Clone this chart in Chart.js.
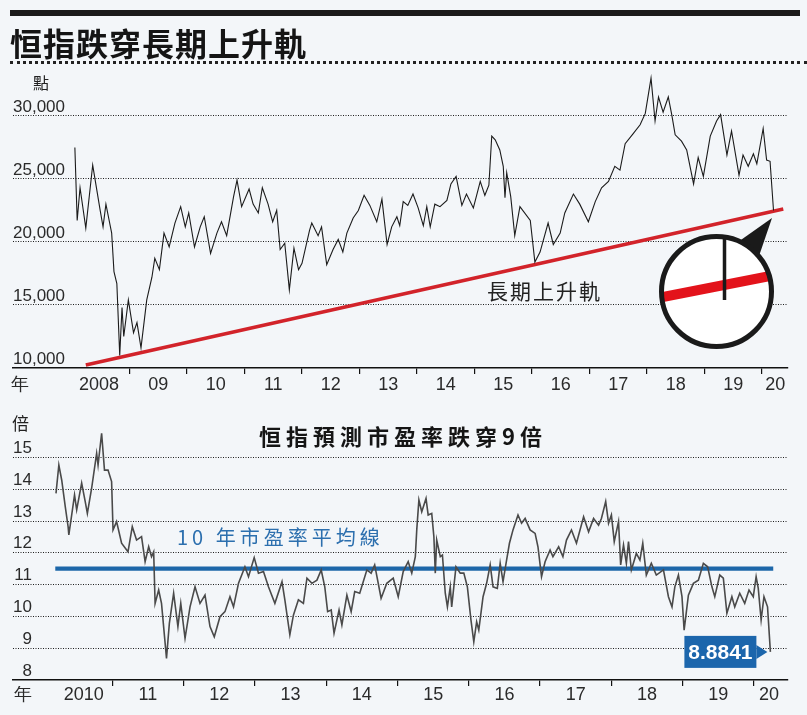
<!DOCTYPE html>
<html lang="zh-Hant">
<head>
<meta charset="utf-8">
<title>恒指跌穿長期上升軌</title>
<script src="https://cdn.jsdelivr.net/npm/chart.js@4.4.1/dist/chart.umd.min.js"></script>
<style>
  body { margin: 0; background: #f3f6f9; }
  #page { position: relative; width: 807px; height: 715px; overflow: hidden; background: #f3f6f9;
          font-family: 'Noto Sans CJK TC', 'Liberation Sans', sans-serif; color: #222; }
  canvas { position: absolute; left: 0; }
  #hsiChart { top: 0; }
  #peChart { top: 400px; }
  .txt { position: absolute; white-space: nowrap; }
  .bar { position: absolute; left: 10px; width: 790px; top: 10px; height: 6px; background: #1b1b1b; }
  .dots { position: absolute; left: 10px; width: 797px; top: 61px; border-top: 3px dotted #222; }
  .title { left: 10px; top: 22px; font-size: 32px; line-height: 40px; font-weight: 700; letter-spacing: 1px; color: #151515; }
  .unit1 { left: 33px; top: 72px; font-size: 16px; line-height: 20px; }
  .unit2 { left: 12px; top: 412px; font-size: 17px; line-height: 22px; }
  .trendLabel { left: 487px; top: 277px; font-size: 21px; line-height: 26px; letter-spacing: 2px; color: #222; }
  .subTitle { left: 259px; top: 420px; font-size: 22px; line-height: 30px; font-weight: 700; letter-spacing: 5px; color: #151515; }
  .avgLabel { left: 177px; top: 524px; font-size: 20px; line-height: 26px; letter-spacing: 4px; color: #2c6fae; }
</style>
</head>
<body>
<div id="page">
  <canvas id="hsiChart" width="807" height="400"></canvas>
  <canvas id="peChart" width="807" height="315"></canvas>
  <div class="bar"></div>
  <div class="txt title">恒指跌穿長期上升軌</div>
  <div class="dots"></div>
  <div class="txt unit1">點</div>
  <div class="txt trendLabel">長期上升軌</div>
  <div class="txt unit2">倍</div>
  <div class="txt subTitle">恒指預測市盈率跌穿9倍</div>
  <div class="txt avgLabel">10 年市盈率平均線</div>
</div>
<script>
// 恒指 (年份以小數表示)
const hsiYears = [2008.05,2008.09,2008.14,2008.24,2008.36,2008.49,2008.54,2008.59,2008.69,2008.73,
  2008.78,2008.83,2008.87,2008.90,2008.98,2009.07,2009.13,2009.20,2009.30,2009.39,
  2009.44,2009.52,2009.60,2009.69,2009.79,2009.89,2009.97,2010.03,2010.13,2010.23,
  2010.30,2010.41,2010.52,2010.60,2010.69,2010.81,2010.87,2010.95,2011.08,2011.15,
  2011.24,2011.31,2011.41,2011.49,2011.56,2011.62,2011.70,2011.78,2011.86,2011.94,
  2012.00,2012.13,2012.17,2012.28,2012.34,2012.43,2012.54,2012.63,2012.71,2012.78,
  2012.89,2012.98,2013.08,2013.18,2013.30,2013.39,2013.48,2013.56,2013.65,2013.70,
  2013.76,2013.84,2013.93,2014.02,2014.11,2014.17,2014.23,2014.31,2014.40,2014.52,
  2014.59,2014.68,2014.78,2014.86,2014.98,2015.10,2015.18,2015.25,2015.30,2015.36,
  2015.44,2015.50,2015.53,2015.56,2015.63,2015.70,2015.79,2015.97,2016.05,2016.14,
  2016.28,2016.37,2016.49,2016.57,2016.72,2016.83,2016.98,2017.10,2017.21,2017.33,
  2017.44,2017.53,2017.62,2017.76,2017.88,2017.97,2018.07,2018.14,2018.20,2018.28,
  2018.37,2018.43,2018.49,2018.60,2018.69,2018.81,2018.89,2018.98,2019.10,2019.21,
  2019.28,2019.39,2019.47,2019.60,2019.67,2019.76,2019.85,2019.91,2020.02,2020.08,
  2020.14,2020.20];
const hsiValues = [27500,21700,24300,21100,26100,22500,21200,23000,20700,17650,
  16700,11000,14800,12500,15400,12800,13600,11600,15400,17200,
  18700,17800,20700,19600,21500,22800,21200,22300,19600,21200,
  22000,19100,20700,21600,20500,23600,24900,22800,24200,23000,
  22300,24300,23000,21600,22500,19400,19900,16200,19500,17800,
  18300,20900,21500,20500,21200,18200,19400,20200,19200,20700,
  21900,22500,23700,22900,21600,23400,19800,21200,22000,21300,
  23200,22900,23800,22700,21300,22800,21200,23000,22800,23300,
  24600,25200,22900,23800,22700,24800,23700,24500,28400,28100,
  27300,26000,23500,25500,23600,20500,22800,21700,18400,19200,
  21500,19800,20700,22300,23800,23000,21600,23200,24300,24800,
  26000,25700,27800,28600,29300,30200,33000,29600,31500,30300,
  31500,30100,28500,28000,27300,24600,26700,25200,28400,29600,
  30100,26900,28800,25300,26900,26000,27000,26200,29000,26500,
  26400,22500];

// 長期上升軌
const trendYears = [2008.24, 2020.37];
const trendValues = [10240, 22620];

// 上圖刻度
const hsiYTicks = [10000, 15000, 20000, 25000, 30000];
const hsiYearTicks = [2009,2010,2011,2012,2013,2014,2015,2016,2017,2018,2019,2020];
const hsiLabelPos = [2007.10,2008.47,2009.5,2010.5,2011.5,2012.5,2013.5,2014.5,2015.5,2016.5,2017.5,2018.5,2019.5,2020.23];
const hsiLabels = ['年','2008','09','10','11','12','13','14','15','16','17','18','19','20'];

// 預測市盈率
const peYears = [2010.21,2010.25,2010.29,2010.34,2010.38,2010.39,2010.42,2010.47,2010.50,2010.57,
  2010.62,2010.65,2010.71,2010.78,2010.80,2010.85,2010.89,2010.94,2010.99,2011.01,
  2011.06,2011.13,2011.22,2011.28,2011.34,2011.41,2011.46,2011.51,2011.55,2011.58,
  2011.60,2011.65,2011.69,2011.76,2011.80,2011.86,2011.92,2011.96,2012.02,2012.09,
  2012.16,2012.23,2012.30,2012.37,2012.43,2012.51,2012.58,2012.65,2012.70,2012.77,
  2012.86,2012.91,2012.99,2013.05,2013.12,2013.19,2013.28,2013.38,2013.42,2013.49,
  2013.54,2013.61,2013.68,2013.73,2013.80,2013.87,2013.93,2013.98,2014.02,2014.07,
  2014.11,2014.18,2014.22,2014.29,2014.35,2014.40,2014.47,2014.57,2014.63,2014.68,
  2014.77,2014.85,2014.94,2015.01,2015.08,2015.15,2015.20,2015.25,2015.27,2015.30,
  2015.34,2015.40,2015.43,2015.48,2015.51,2015.53,2015.55,2015.60,2015.63,2015.67,
  2015.70,2015.74,2015.76,2015.82,2015.88,2015.93,2015.98,2016.03,2016.07,2016.11,
  2016.14,2016.20,2016.25,2016.30,2016.34,2016.40,2016.44,2016.48,2016.53,2016.57,
  2016.62,2016.69,2016.74,2016.79,2016.86,2016.93,2016.97,2017.02,2017.07,2017.14,
  2017.18,2017.26,2017.32,2017.37,2017.44,2017.51,2017.61,2017.68,2017.75,2017.82,
  2017.86,2017.92,2017.96,2018.00,2018.04,2018.10,2018.13,2018.17,2018.21,2018.24,
  2018.28,2018.35,2018.40,2018.44,2018.49,2018.56,2018.63,2018.73,2018.80,2018.85,
  2018.89,2018.94,2018.99,2019.02,2019.08,2019.15,2019.22,2019.29,2019.35,2019.41,
  2019.45,2019.52,2019.57,2019.62,2019.69,2019.73,2019.80,2019.87,2019.93,2019.99,
  2020.03,2020.06,2020.10,2020.14,2020.19,2020.23];
const peValues = [13.87,14.76,14.29,13.45,12.82,12.56,13.03,13.82,13.35,14.19,
  13.61,13.24,14.03,15.13,14.76,15.76,14.60,14.60,14.24,12.72,
  12.98,12.30,12.03,12.82,12.40,12.51,11.72,12.19,11.88,12.03,
  10.41,10.83,10.41,8.68,9.78,10.73,9.68,10.41,9.31,10.30,
  10.93,10.41,10.67,9.68,9.36,9.99,10.15,10.62,10.30,11.04,
  11.56,11.25,11.85,11.36,11.41,10.93,10.41,11.09,10.52,9.42,
  10.04,10.52,10.41,11.20,11.04,11.14,11.46,10.93,10.15,10.20,
  9.47,10.20,9.73,10.67,10.15,10.78,10.73,11.46,11.36,11.62,
  10.57,11.04,11.20,10.62,11.41,11.72,11.36,11.88,12.72,13.66,
  13.29,13.71,13.19,13.24,12.51,11.36,12.40,11.88,11.93,10.73,
  10.30,10.93,10.30,11.56,11.36,11.36,10.93,9.89,9.20,9.83,
  9.57,10.62,11.04,11.62,10.93,10.88,11.67,11.09,11.77,12.30,
  12.72,13.19,12.93,13.08,12.72,12.61,12.19,11.25,11.72,12.09,
  11.88,12.19,11.88,12.40,12.72,12.30,13.13,12.66,13.08,12.87,
  13.08,13.61,12.93,13.19,12.35,12.98,11.62,12.25,11.67,12.35,
  11.46,11.98,11.77,12.30,11.30,11.67,11.30,11.46,10.62,10.30,
  10.93,11.30,10.62,9.57,10.67,11.04,11.14,11.67,11.56,10.93,
  10.62,11.30,11.20,10.10,10.62,10.30,10.73,10.41,10.83,10.62,
  11.25,10.88,9.89,10.62,10.30,8.8841];
const lastPE = '8.8841';

// 10年市盈率平均線
const avgYears = [2010.20, 2020.27];
const avgPE = 11.5;

// 下圖刻度
const peYTicks = [8, 9, 10, 11, 12, 13, 14, 15];
const peYearTicks = [2011,2012,2013,2014,2015,2016,2017,2018,2019,2020];
const peLabelPos = [2009.75,2010.60,2011.5,2012.5,2013.5,2014.5,2015.5,2016.5,2017.5,2018.5,2019.5,2020.21];
const peLabels = ['年','2010','11','12','13','14','15','16','17','18','19','20'];

const tickFont = { family: "'Liberation Sans', Arial, sans-serif", size: 17 };
const catFont = { family: "'Liberation Sans', Arial, sans-serif", size: 18 };

function toPoints(xs, ys) {
    return xs.map((x, i) => ({ x: x, y: Array.isArray(ys) ? ys[i] : ys }));
}

function xAxes(min, max, yearTicks, labelPos, labels, labelHeight, labelPad) {
    return {
        x: {
            type: 'linear', position: 'bottom', min: min, max: max,
            afterBuildTicks: s => { s.ticks = yearTicks.map(v => ({ value: v })); },
            afterFit: s => { s.height = 6; },
            grid: { drawOnChartArea: false, drawTicks: true, tickLength: 6, color: '#111', lineWidth: 1.2 },
            border: { display: true, color: '#111', width: 1.6 },
            ticks: { display: false }
        },
        xl: {
            type: 'linear', position: 'bottom', min: min, max: max,
            afterBuildTicks: s => { s.ticks = labelPos.map(v => ({ value: v })); },
            afterFit: s => { s.height = labelHeight; },
            grid: { display: false, drawTicks: false },
            border: { display: false },
            ticks: { autoSkip: false, maxRotation: 0, padding: labelPad, color: '#2a2a2a', font: catFont,
                     callback: (v, i) => labels[i] }
        }
    };
}

function yAxis(min, max, ticks, fmt) {
    return {
        min: min, max: max,
        afterBuildTicks: s => { s.ticks = ticks.map(v => ({ value: v })); },
        afterFit: s => { s.width = 0; },
        border: { display: false, dash: [1, 1.5] },
        grid: { drawTicks: false, lineWidth: 1,
                color: c => c.tick && c.tick.value === min ? 'rgba(0,0,0,0)' : '#1e1e1e' },
        ticks: { mirror: true, crossAlign: 'far', padding: 0, labelOffset: -9,
                 color: '#2a2a2a', font: tickFont, callback: fmt }
    };
}

// 放大鏡
const magnifier = {
    id: 'magnifier',
    afterDatasetsDraw(chart) {
        const ctx = chart.ctx;
        const cx = 716.5, cy = 291.5, r = 55;
        ctx.save();
        ctx.beginPath();
        ctx.moveTo(738, 242);
        ctx.lineTo(772, 218);
        ctx.lineTo(759, 256);
        ctx.closePath();
        ctx.fillStyle = '#1a1a1a';
        ctx.fill();
        ctx.beginPath();
        ctx.arc(cx, cy, r, 0, Math.PI * 2);
        ctx.fillStyle = '#ffffff';
        ctx.fill();
        ctx.save();
        ctx.clip();
        ctx.strokeStyle = '#e3131b';
        ctx.lineWidth = 10;
        ctx.beginPath();
        ctx.moveTo(655, 298.5);
        ctx.lineTo(775, 275);
        ctx.stroke();
        ctx.strokeStyle = '#1a1a1a';
        ctx.lineWidth = 3.5;
        ctx.beginPath();
        ctx.moveTo(724.5, 236);
        ctx.lineTo(724.5, 300);
        ctx.stroke();
        ctx.restore();
        ctx.beginPath();
        ctx.arc(cx, cy, r, 0, Math.PI * 2);
        ctx.strokeStyle = '#1a1a1a';
        ctx.lineWidth = 5;
        ctx.stroke();
        ctx.restore();
    }
};

// 最後數值標籤
const lastTag = {
    id: 'lastTag',
    afterDatasetsDraw(chart) {
        const pts = chart.getDatasetMeta(0).data;
        const p = pts[pts.length - 1];
        const ctx = chart.ctx;
        const right = p.x - 14, w = 72, h = 32, cy = p.y;
        ctx.save();
        ctx.fillStyle = '#1c66ac';
        ctx.fillRect(right - w, cy - h / 2, w, h);
        ctx.beginPath();
        ctx.moveTo(right, cy - 7);
        ctx.lineTo(right + 11, cy);
        ctx.lineTo(right, cy + 7);
        ctx.closePath();
        ctx.fill();
        ctx.fillStyle = '#ffffff';
        ctx.font = "bold 21px 'Liberation Sans', Arial, sans-serif";
        ctx.textAlign = 'center';
        ctx.textBaseline = 'middle';
        ctx.fillText(lastPE, right - w / 2, cy + 1);
        ctx.restore();
    }
};

Chart.defaults.animation = false;

new Chart(document.getElementById('hsiChart'), {
    type: 'line',
    data: {
        datasets: [{
            data: toPoints(hsiYears, hsiValues),
            borderColor: '#1b1b1b',
            borderWidth: 1.1,
            pointRadius: 0
        }, {
            data: toPoints(trendYears, trendValues),
            borderColor: '#d2232a',
            borderWidth: 3.5,
            pointRadius: 0
        }]
    },
    options: {
        responsive: false,
        maintainAspectRatio: false,
        layout: { padding: { left: 13, right: 19, top: 68, bottom: 0 } },
        scales: Object.assign(xAxes(2006.974, 2020.452, hsiYearTicks, hsiLabelPos, hsiLabels, 26, 0),
            { y: yAxis(10000, 33800, hsiYTicks, v => v.toLocaleString('en-US')) }),
        plugins: { legend: { display: false }, tooltip: { enabled: false } }
    },
    plugins: [magnifier]
});

new Chart(document.getElementById('peChart'), {
    type: 'line',
    data: {
        datasets: [{
            data: toPoints(peYears, peValues),
            borderColor: '#4a4a4a',
            borderWidth: 1.6,
            pointRadius: 0
        }, {
            data: toPoints(avgYears, avgPE),
            borderColor: '#1d67a9',
            borderWidth: 4.3,
            pointRadius: 0
        }]
    },
    options: {
        responsive: false,
        maintainAspectRatio: false,
        layout: { padding: { left: 13, right: 19, top: 25.6, bottom: 0 } },
        scales: Object.assign(xAxes(2009.607, 2020.477, peYearTicks, peLabelPos, peLabels, 29, -2),
            { y: yAxis(8, 16, peYTicks, v => String(v)) }),
        plugins: { legend: { display: false }, tooltip: { enabled: false } }
    },
    plugins: [lastTag]
});
</script>
</body>
</html>
